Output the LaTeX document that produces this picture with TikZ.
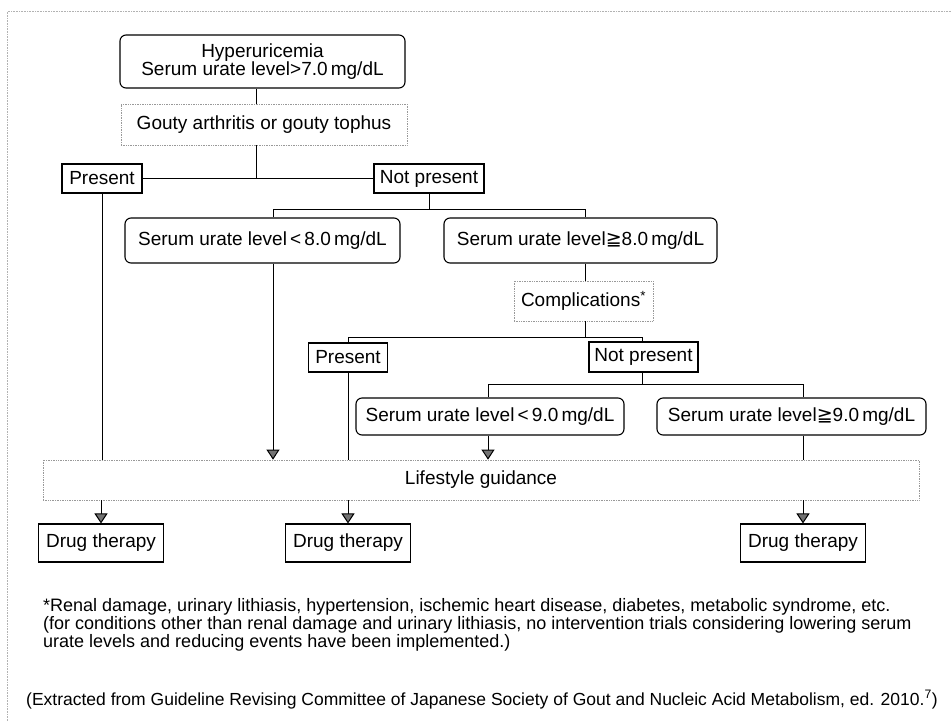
\documentclass[tikz,border=0pt]{standalone}
\usepackage{fontspec}
\setmainfont{Liberation Sans}
\newfontfamily\symfnt{DejaVu Sans}
\usetikzlibrary{arrows.meta}
\newcommand{\geqq}{{\symfnt\char"2267}}
\begin{document}
\begin{tikzpicture}[x=1pt,y=-1pt,
  every node/.style={inner sep=0pt, font=\fontsize{19}{18}\selectfont},
  rbox/.style={draw, rounded corners=6pt, line width=1.1pt, align=center},
  sbox/.style={draw, line width=1.1pt},
  dbox/.style={draw=black!40, densely dotted, line width=0.7pt},
  conn/.style={line width=1pt},
  arr/.style={line width=1pt, -{Triangle[width=13pt,length=10pt,fill=black!55]}},
  foot/.style={anchor=base west, font=\fontsize{18}{18}\selectfont}]
\useasboundingbox (0,0) rectangle (951,721);
\draw[black!30, densely dotted, line width=0.6pt] (7,721) -- (7,11.5) -- (951,11.5);

\node[rbox, minimum width=285, minimum height=53] (hyper) at (262.5,61.5) {Hyperuricemia\\Serum urate level>7.0\,mg/dL};
\node[dbox, minimum width=286, minimum height=41] (gouty) at (264,124.5) {Gouty arthritis or gouty tophus};
\node[sbox, minimum width=80, minimum height=29] (pres1) at (102,178.5) {Present};
\node[sbox, minimum width=110, minimum height=29] (notp1) at (429,178.5) {Not present};
\node[rbox, minimum width=275, minimum height=45] (lt8) at (262.5,240.5) {Serum urate level\,<\,8.0\,mg/dL};
\node[rbox, minimum width=273, minimum height=45] (ge8) at (580.5,240.5) {Serum urate level\geqq8.0\,mg/dL};
\node[dbox, minimum width=139, minimum height=40] (comp) at (583.5,301) {Complications\textsuperscript{*}};
\node[sbox, minimum width=79, minimum height=29] (pres2) at (348,357.5) {Present};
\node[sbox, minimum width=109, minimum height=30] (notp2) at (643.5,357) {Not present};
\node[rbox, minimum width=268, minimum height=37] (lt9) at (490,416.5) {Serum urate level\,<\,9.0\,mg/dL};
\node[rbox, minimum width=269, minimum height=37] (ge9) at (791.5,416.5) {Serum urate level\geqq9.0\,mg/dL};
\node[dbox, minimum width=876, minimum height=40] (life) at (481,480) {Lifestyle guidance};
\node[sbox, minimum width=125, minimum height=38] (drug1) at (101,543) {Drug therapy};
\node[sbox, minimum width=125, minimum height=38] (drug2) at (348,543) {Drug therapy};
\node[sbox, minimum width=125, minimum height=38] (drug3) at (803,543) {Drug therapy};

\coordinate (j1) at (256,178.5);
\coordinate (b2l) at (273,209);
\coordinate (b2r) at (585,209);
\coordinate (b3l) at (348,337);
\coordinate (b3r) at (642,337);
\coordinate (b4l) at (488,384);
\coordinate (b4r) at (803,384);

\draw[conn] (hyper.south -| j1) -- (gouty.north -| j1);
\draw[conn] (gouty.south -| j1) -- (j1);
\draw[conn] (pres1.east) -- (notp1.west);
\draw[conn] (notp1.south) -- (notp1.south |- b2l);
\draw[conn] (lt8.north -| b2l) -- (b2l) -- (b2r) -- (ge8.north -| b2r);
\draw[conn] (ge8.south -| b2r) -- (comp.north -| b2r);
\draw[conn] (comp.south -| b2r) -- (b2r |- b3l);
\draw[conn] (pres2.north -| b3l) -- (b3l) -- (b3r) -- (notp2.north -| b3r);
\draw[conn] (notp2.south -| b3r) -- (b3r |- b4l);
\draw[conn] (lt9.north -| b4l) -- (b4l) -- (b4r) -- (ge9.north -| b4r);

\draw[conn] (pres1.south) -- (pres1.south |- life.north);
\draw[arr] (lt8.south -| b2l) -- (life.north -| b2l);
\draw[conn] (pres2.south) -- (pres2.south |- life.north);
\draw[arr] (lt9.south -| b4l) -- (life.north -| b4l);
\draw[conn] (ge9.south -| b4r) -- (life.north -| b4r);
\draw[arr] (life.south -| drug1) -- (drug1.north);
\draw[arr] (life.south -| drug2) -- (drug2.north);
\draw[arr] (life.south -| drug3) -- (drug3.north);

\node[foot] (f1) at (43,611) {*Renal damage, urinary lithiasis, hypertension, ischemic heart disease, diabetes, metabolic syndrome, etc.};
\node[foot] (f2) at (43,629) {(for conditions other than renal damage and urinary lithiasis, no intervention trials considering lowering serum};
\node[foot] (f3) at (43,647) {urate levels and reducing events have been implemented.)};
\node[foot, font=\fontsize{17.5}{18}\selectfont] (f4) at (26,705) {(Extracted from Guideline Revising Committee of Japanese Society of Gout and Nucleic Acid Metabolism, ed. 2010.\textsuperscript{7})};
\end{tikzpicture}
\end{document}
